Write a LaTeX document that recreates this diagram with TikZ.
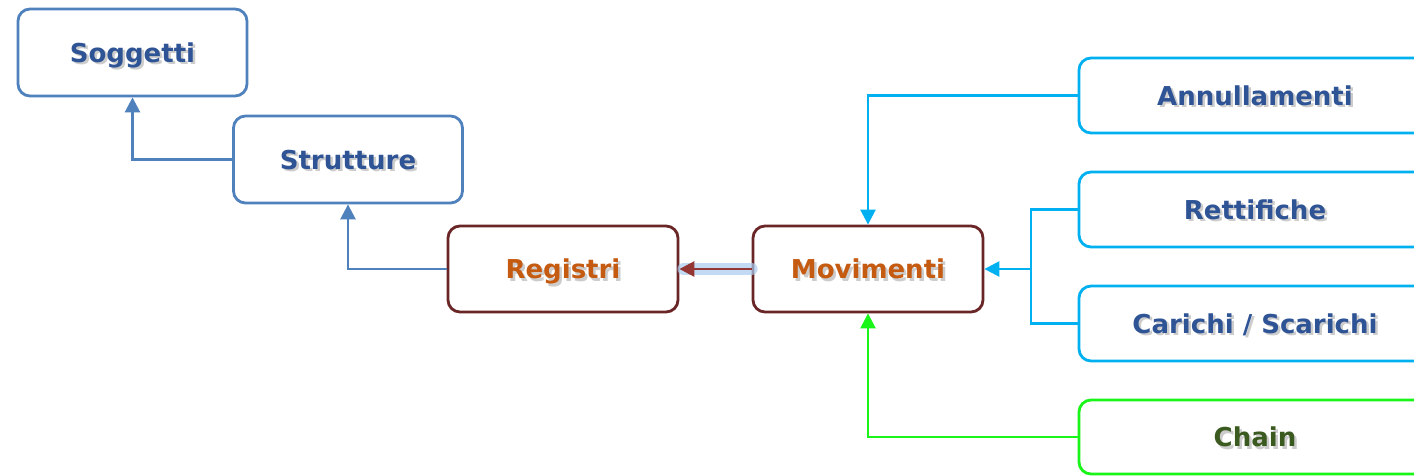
\documentclass[tikz,border=0pt]{standalone}
\usepackage{fontspec}
\setmainfont{DejaVu Sans}
\usetikzlibrary{arrows.meta}
\definecolor{boxblue}{HTML}{4F81BD}
\definecolor{txtblue}{HTML}{2F5496}
\definecolor{mybrown}{HTML}{6A2626}
\definecolor{txtorange}{HTML}{C55A11}
\definecolor{mycyan}{HTML}{00B0F0}
\definecolor{mygreen}{HTML}{19F519}
\definecolor{txtgreen}{HTML}{3B5A1F}
\definecolor{arrowred}{HTML}{943634}
\definecolor{glow}{HTML}{A9CBEF}
\newcommand\shtxt[1]{\makebox[0pt][l]{\hspace{2.5pt}\raisebox{-2.5pt}{\color{black!20}#1}}#1}
\tikzset{
  box/.style={draw, line width=2.8pt, rounded corners=12pt, fill=white,
    inner sep=0pt, text height=24pt, text depth=5pt,
    font=\fontsize{26}{30}\selectfont\bfseries},
  leftbox/.style={box, draw=boxblue, text=txtblue, minimum width=229pt, minimum height=87pt},
  midbox/.style={box, draw=mybrown, text=txtorange, minimum width=230pt, minimum height=86pt},
  rightbox/.style={box, draw=mycyan, text=txtblue, minimum width=352pt, minimum height=75pt},
  greenbox/.style={box, draw=mygreen, text=txtgreen, minimum width=352pt, minimum height=74pt},
  tip/.style={-{Triangle[length=15pt,width=15pt]}},
  bline/.style={tip, draw=boxblue, line width=2.6pt},
  cline/.style={draw=mycyan, line width=2.6pt},
  gline/.style={tip, draw=mygreen, line width=2.6pt},
}
\begin{document}
\begin{tikzpicture}[x=1pt,y=-1pt]
\useasboundingbox (0,0) rectangle (1414,475);
\clip (0,0) rectangle (1414,475);
\fill[white] (0,0) rectangle (1414,475);

\node[leftbox] (sogg) at (132.5,52.5) {\shtxt{Soggetti}};
\node[leftbox] (strut) at (348,159.5) {\shtxt{Strutture}};
\node[midbox] (reg) at (563,269) {\shtxt{Registri}};
\node[midbox] (mov) at (868,269) {\shtxt{Movimenti}};
\node[rightbox] (ann) at (1255,95.5) {\shtxt{Annullamenti}};
\node[rightbox] (ret) at (1255,209.5) {\shtxt{Rettifiche}};
\node[rightbox] (car) at (1255,323.5) {\shtxt{Carichi / Scarichi}};
\node[greenbox] (chain) at (1255,437) {\shtxt{Chain}};
\coordinate (j) at (1031,269);

\draw[bline] (strut.west) -| (sogg.south);
\draw[bline] (reg.west) -| (strut.south);
\draw[draw=glow, line width=12pt, opacity=0.7, line cap=round] (mov.west) -- ([xshift=4pt]reg.east);
\draw[tip, draw=arrowred, line width=2.8pt] (mov.west) -- (reg.east);
\draw[cline, tip] (ann.west) -| (mov.north);
\draw[cline] (ret.west) -| (j);
\draw[cline] (car.west) -| (j);
\draw[cline, tip] (j) -- (mov.east);
\draw[gline] (chain.west) -| (mov.south);
\end{tikzpicture}
\end{document}
